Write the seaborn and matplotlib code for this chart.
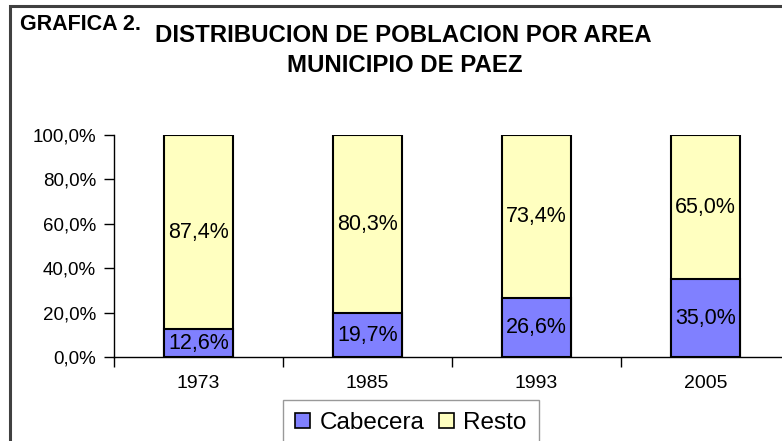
import matplotlib
matplotlib.use('Agg')
import matplotlib.pyplot as plt
import matplotlib.patches as mpatches
from matplotlib.ticker import FuncFormatter, FixedLocator
import seaborn as sns
import pandas as pd

years = ['1973', '1985', '1993', '2005']
cabecera = [12.6, 19.7, 26.6, 35.0]
resto = [87.4, 80.3, 73.4, 65.0]
series_names = ['Cabecera', 'Resto']
col_cab = '#8080ff'
col_resto = '#ffffc0'

sns.set_style('white', {'text.color': 'black', 'xtick.color': 'black',
                        'ytick.color': 'black', 'axes.labelcolor': 'black'})
plt.rcParams['font.family'] = ['Liberation Sans', 'DejaVu Sans']

df = pd.DataFrame({'year': years, 'Cabecera': cabecera, 'Resto': resto})
df['total'] = df['Cabecera'] + df['Resto']

fig = plt.figure(figsize=(7.82, 4.41), dpi=100)
ax = fig.add_axes([114 / 782, 1 - 357 / 441, 676 / 782, 222 / 441])

# stacked: total bar (resto colour) behind, cabecera bar in front
sns.barplot(data=df, x='year', y='total', color=col_resto, width=0.41,
            edgecolor='black', linewidth=1.5, saturation=1, ax=ax)
sns.barplot(data=df, x='year', y='Cabecera', color=col_cab, width=0.41,
            edgecolor='black', linewidth=1.5, saturation=1, ax=ax)

fmt = lambda v: f'{v:.1f}'.replace('.', ',') + '%'
tot_bars = ax.containers[0]
cab_bars = ax.containers[1]
for bar, c, r in zip(tot_bars, df['Cabecera'], df['Resto']):
    x = bar.get_x() + bar.get_width() / 2
    ax.text(x, c + r / 2, fmt(r), ha='center', va='center', fontsize=15.5, color='black')
for bar, c in zip(cab_bars, df['Cabecera']):
    x = bar.get_x() + bar.get_width() / 2
    ax.text(x, c / 2, fmt(c), ha='center', va='center', fontsize=15.5, color='black')

ax.set_xlim(-0.5, len(years) - 0.5)
ax.set_ylim(0, 100)
ax.set_yticks(range(0, 101, 20))
ax.yaxis.set_major_formatter(FuncFormatter(lambda v, p: fmt(v)))
ax.set_xlabel('')
ax.set_ylabel('')
ax.tick_params(axis='y', direction='out', length=7, width=1, labelsize=13.5, pad=6, left=True)
ax.tick_params(axis='x', which='major', length=0, labelsize=14, pad=13)
ax.xaxis.set_minor_locator(FixedLocator([i - 0.5 for i in range(len(years) + 1)]))
ax.tick_params(axis='x', which='minor', direction='out', length=7, width=1, bottom=True)
for s in ['top', 'right']:
    ax.spines[s].set_visible(False)
for s in ['left', 'bottom']:
    ax.spines[s].set_color('black')
    ax.spines[s].set_linewidth(1)

# titles
fig.text(20 / 782, 1 - 24 / 441, 'GRAFICA 2.', fontsize=15.5, fontweight='bold',
         va='center', ha='left', color='black')
fig.text(403 / 782, 1 - 35 / 441, 'DISTRIBUCION DE POBLACION POR AREA', fontsize=17.3,
         fontweight='bold', va='center', ha='center', color='black')
fig.text(405 / 782, 1 - 65 / 441, 'MUNICIPIO DE PAEZ', fontsize=17.3,
         fontweight='bold', va='center', ha='center', color='black')

# legend
handles = [mpatches.Patch(facecolor=col_cab, edgecolor='black', linewidth=1.2, label=series_names[0]),
           mpatches.Patch(facecolor=col_resto, edgecolor='black', linewidth=1.2, label=series_names[1])]
leg = fig.legend(handles=handles, loc='upper center', bbox_to_anchor=(411 / 782, 1 - 400 / 441),
                 ncol=2, fontsize=17.5, frameon=True, fancybox=False, edgecolor='#808080',
                 handlelength=0.6, handleheight=0.6, handletextpad=0.4, columnspacing=0.6,
                 borderpad=0.5, borderaxespad=0)
leg.get_frame().set_linewidth(1)

# outer chart frame (extends past right/bottom edges)
fig.patches.append(mpatches.Rectangle((10 / 782, -0.1), 1.2, 1 - 6 / 441 + 0.1,
                                      transform=fig.transFigure, fill=False,
                                      edgecolor='#404040', linewidth=2.2))

fig.savefig('out.png', dpi=100)
